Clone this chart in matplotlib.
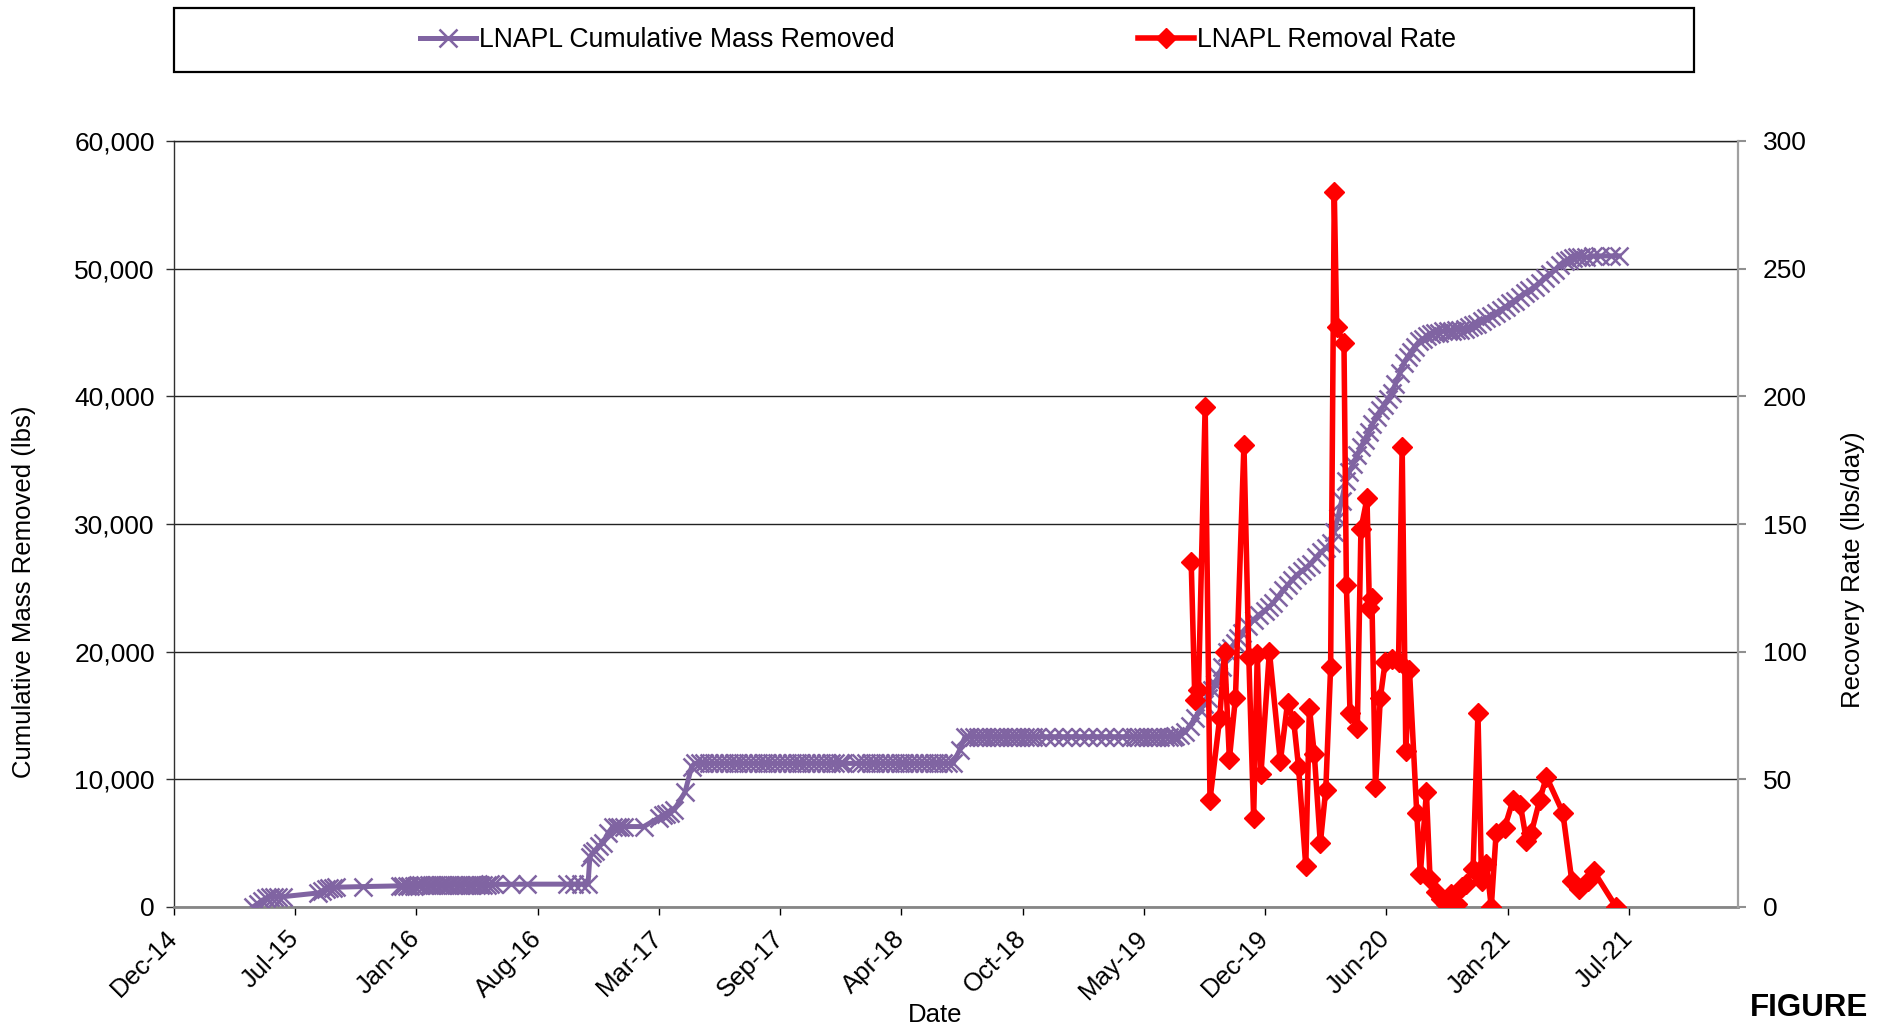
import matplotlib
matplotlib.use('Agg')
import matplotlib.pyplot as plt
import matplotlib.dates as mdates
from matplotlib.patches import Rectangle
from matplotlib.lines import Line2D
from matplotlib.ticker import FuncFormatter
import pandas as pd

plt.rcParams['font.family'] = ['Liberation Sans', 'DejaVu Sans']

# ---------------- data (dates as Excel serial numbers) ----------------
mass_serial = [
    42130, 42138, 42145, 42152, 42158, 42165, 42172, 42180,
    42238, 42244, 42250, 42256, 42262, 42268, 42312,
    42372, 42378, 42384, 42390, 42396, 42402, 42408, 42414, 42420, 42426,
    42432, 42438, 42444, 42450, 42456, 42462, 42468, 42474, 42480, 42486,
    42492, 42498, 42504, 42510, 42516, 42522, 42528, 42556, 42582,
    42648, 42660, 42672, 42683, 42686, 42690, 42694, 42701, 42708, 42716,
    42724, 42730, 42736, 42742, 42775, 42800, 42806, 42812, 42818, 42825,
    42843, 42854, 42859, 42867, 42875, 42883, 42891, 42899, 42907, 42915,
    42923, 42931, 42939, 42947, 42955, 42963, 42971, 42979, 42987, 42995,
    43003, 43011, 43019, 43027, 43035, 43043, 43051, 43059, 43067, 43075,
    43083, 43091, 43099, 43104,
    43125, 43133, 43141, 43149, 43157, 43165, 43173, 43181, 43189, 43197,
    43205, 43213, 43221, 43229, 43237, 43245, 43253, 43261, 43269, 43277,
    43285, 43296,
    43305, 43312, 43319, 43326, 43333, 43340, 43347, 43354, 43361, 43368,
    43375, 43382, 43389, 43396, 43403, 43410, 43417, 43424, 43438, 43452,
    43466, 43480, 43494, 43508, 43522, 43536, 43550, 43564, 43578, 43585,
    43592, 43599, 43606, 43613, 43620, 43627, 43634, 43641, 43648,
    43651, 43660, 43668, 43676, 43684, 43692, 43699, 43706, 43712, 43717,
    43723, 43729, 43737, 43744, 43750, 43756, 43762, 43771, 43781, 43790,
    43799, 43806, 43813, 43821, 43829, 43837, 43844, 43852, 43860, 43868,
    43875, 43884, 43892, 43900, 43908, 43914, 43920, 43926, 43933, 43939,
    43945, 43952, 43958, 43964, 43971, 43977, 43984, 43990, 43996, 44003,
    44009, 44015, 44022, 44029, 44035, 44041, 44047, 44054, 44060, 44067,
    44073, 44080, 44087, 44094, 44101, 44108, 44115, 44122, 44129, 44136,
    44143, 44149, 44157, 44165, 44173, 44181, 44189, 44197, 44204, 44212,
    44220, 44228, 44236, 44245, 44253, 44261, 44270, 44278, 44286, 44294,
    44301, 44308, 44315, 44321, 44330, 44340, 44352, 44370, 44384,
]
mass_lbs = [
    0, 250, 500, 700, 780, 790, 800, 810,
    1100, 1250, 1400, 1480, 1520, 1550, 1600,
    1650, 1650, 1660, 1670, 1680, 1690, 1690, 1700, 1700, 1700,
    1710, 1720, 1720, 1720, 1730, 1730, 1740, 1740, 1740, 1750,
    1750, 1750, 1760, 1760, 1760, 1770, 1770, 1780, 1790,
    1790, 1800, 1800, 1800, 3900, 4200, 4400, 4800, 5000, 5800,
    6300, 6300, 6300, 6300, 6300, 7000, 7200, 7300, 7400, 7600,
    9000, 11000, 11250, 11250, 11250, 11250, 11250, 11250, 11250, 11250,
    11250, 11250, 11250, 11250, 11250, 11250, 11250, 11250, 11250, 11250,
    11250, 11250, 11250, 11250, 11250, 11250, 11250, 11250, 11250, 11250,
    11250, 11250, 11250, 11250,
    11250, 11250, 11250, 11250, 11250, 11250, 11250, 11250, 11250, 11250,
    11250, 11250, 11250, 11250, 11250, 11250, 11250, 11250, 11250, 11250,
    11250, 12300,
    13340, 13340, 13340, 13340, 13340, 13340, 13340, 13340, 13340, 13340,
    13340, 13340, 13340, 13340, 13340, 13340, 13340, 13340, 13340, 13340,
    13340, 13340, 13340, 13340, 13340, 13340, 13340, 13340, 13340, 13340,
    13340, 13340, 13340, 13340, 13340, 13340, 13340, 13340, 13340,
    13400, 13500, 13700, 14200, 14800, 15400, 15900, 16400, 17000, 17500,
    18100, 18800, 20000, 20300, 20700, 21100, 21500, 22000, 22500, 22900,
    23200, 23500, 23800, 24300, 24800, 25200, 25600, 26000, 26300, 26600,
    26900, 27400, 27800, 28100, 28500, 29400, 30500, 31800, 33400, 34100,
    34700, 35400, 36000, 36600, 37200, 37800, 38400, 38900, 39300, 39800,
    40300, 41000, 41800, 42600, 43100, 43500, 43900, 44300, 44500, 44700,
    44900, 45000, 45000, 45100, 45100, 45100, 45200, 45200, 45300, 45400,
    45600, 45700, 45900, 46100, 46300, 46500, 46800, 47000, 47300, 47500,
    47800, 48100, 48300, 48600, 48900, 49300, 49600, 49900, 50300, 50600,
    50700, 50800, 50900, 50900, 50900, 51000, 51000, 51000, 51000,
]

rate_serial = [
    43678, 43684, 43690, 43701, 43709, 43725, 43733, 43741, 43751, 43765,
    43773, 43781, 43787, 43793, 43807, 43825, 43837, 43847, 43855, 43867,
    43873, 43881, 43891, 43900, 43908, 43914, 43918, 43930, 43934, 43940,
    43952, 43958, 43968, 43972, 43976, 43982, 43990, 43998, 44010, 44020,
    44026, 44032, 44038, 44050, 44056, 44066, 44072, 44082, 44090, 44099,
    44107, 44117, 44125, 44131, 44143, 44151, 44157, 44165, 44173, 44181,
    44195, 44209, 44221, 44231, 44239, 44253, 44264, 44291, 44306, 44318,
    44332, 44342, 44379,
]
rate_lbs_day = [
    135, 81, 85, 196, 42, 74, 100, 58, 82, 181,
    98, 35, 99, 52, 100, 57, 80, 73, 55, 16,
    78, 60, 25, 46, 94, 280, 227, 221, 126, 76,
    70, 148, 160, 117, 121, 47, 82, 96, 97, 96,
    180, 61, 93, 37, 13, 45, 11, 6, 3, 1,
    5, 1, 8, 9, 15, 76, 10, 17, 0, 29,
    31, 42, 40, 26, 29, 42, 51, 37, 10, 7,
    10, 14, 0,
]

x_tick_serials = [42000, 42200, 42400, 42600, 42800, 43000, 43200,
                  43400, 43600, 43800, 44000, 44200, 44400]
x_limits_serial = [42000, 44580]
left_ticks = [0, 10000, 20000, 30000, 40000, 50000, 60000]
right_ticks = [0, 50, 100, 150, 200, 250, 300]

mass_label = 'LNAPL Cumulative Mass Removed'
rate_label = 'LNAPL Removal Rate'


def to_dt(s):
    return pd.to_datetime(pd.Series(s), unit='D', origin='1899-12-30')


mass_dates = to_dt(mass_serial)
rate_dates = to_dt(rate_serial)
tick_dates = to_dt(x_tick_serials)
lim_dates = to_dt(x_limits_serial)

PURPLE = '#8064A2'
RED = '#FF0000'
FS = 18.5
P_MS, P_MEW, P_LW = 13, 1.8, 3.6
R_MS, R_LW = 10.5, 4.0

fig = plt.figure(figsize=(18.9, 10.32), dpi=100)
ax = fig.add_axes([174 / 1890, 1 - 907 / 1032, (1738 - 174) / 1890, (907 - 141) / 1032])
ax2 = ax.twinx()

ax.plot(mass_dates, mass_lbs, color=PURPLE, lw=P_LW, marker='x', ms=P_MS,
        mew=P_MEW, mec=PURPLE, zorder=3)
ax2.plot(rate_dates, rate_lbs_day, color=RED, lw=R_LW, marker='D', ms=R_MS,
         mew=1, mec=RED, mfc=RED, zorder=3)

ax.set_xlim(lim_dates.iloc[0], lim_dates.iloc[1])
ax.set_ylim(0, 60000)
ax2.set_ylim(0, 300)

ax.set_xticks(list(tick_dates))
ax.xaxis.set_major_formatter(mdates.DateFormatter('%b-%y'))
ax.set_yticks(left_ticks)
ax.yaxis.set_major_formatter(FuncFormatter(lambda v, p: f'{int(v):,}'))
ax2.set_yticks(right_ticks)

for lab in ax.get_xticklabels():
    lab.set_rotation(45)
    lab.set_ha('right')
    lab.set_va('center')
    lab.set_rotation_mode('anchor')
    lab.set_fontsize(FS)

ax.tick_params(axis='x', direction='out', length=8 * 0.72, width=1, color='black',
               pad=14, labelsize=FS)
ax.tick_params(axis='y', direction='out', length=8 * 0.72, width=1, color='#303030',
               pad=8, labelsize=FS + 0.5)
ax2.tick_params(axis='y', direction='out', length=8 * 0.72, width=1.5, color='#909090',
                pad=12, labelsize=FS + 0.5)

ax.yaxis.grid(True, color='#222222', lw=1.0)
ax.set_axisbelow(True)

ax.spines['top'].set_color('#222222')
ax.spines['top'].set_linewidth(1.0)
ax.spines['left'].set_color('#303030')
ax.spines['left'].set_linewidth(1.0)
ax.spines['bottom'].set_color('#868686')
ax.spines['bottom'].set_linewidth(2.0)
ax.spines['right'].set_visible(False)
ax2.spines['top'].set_visible(False)
ax2.spines['left'].set_visible(False)
ax2.spines['bottom'].set_visible(False)
ax2.spines['right'].set_color('#A0A0A0')
ax2.spines['right'].set_linewidth(1.6)

# axis titles
fig.text(24 / 1890, 1 - 592 / 1032, 'Cumulative Mass Removed (lbs)', rotation=90,
         ha='center', va='center', fontsize=FS)
fig.text(1853 / 1890, 1 - 570 / 1032, 'Recovery Rate (lbs/day)', rotation=90,
         ha='center', va='center', fontsize=FS)
fig.text(935 / 1890, 1 - 1015 / 1032, 'Date', ha='center', va='center', fontsize=FS)
fig.text(1868 / 1890, 1 - 1008 / 1032, 'FIGURE', ha='right', va='center',
         fontsize=22.5, fontweight='bold')

# legend box
fig.patches.append(Rectangle((174 / 1890, 1 - 72 / 1032), (1694 - 174) / 1890, 64 / 1032,
                             transform=fig.transFigure, fill=False, ec='black', lw=1.6))
h1 = Line2D([], [], color=PURPLE, lw=P_LW, marker='x', ms=P_MS, mew=P_MEW)
h2 = Line2D([], [], color=RED, lw=R_LW, marker='D', ms=R_MS, mfc=RED, mec=RED)
fig.legend([h1, h2], [mass_label, rate_label], loc='center',
           bbox_to_anchor=(938 / 1890, 1 - 40 / 1032), ncol=2, frameon=False,
           fontsize=19.2, handlelength=2.1, handletextpad=0.1, columnspacing=9.15,
           borderpad=0, borderaxespad=0)

fig.savefig('out.png', dpi=100)
